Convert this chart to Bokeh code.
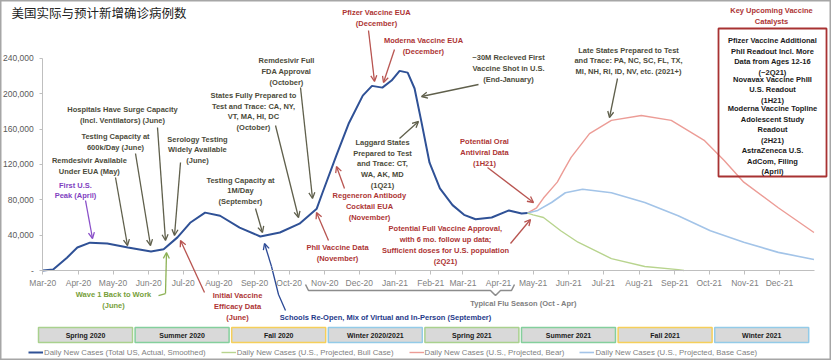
import datetime as dt
from bokeh.plotting import figure
from bokeh.models import (Range1d, LinearAxis, FixedTicker, NumeralTickFormatter,
                          Arrow, OpenHead, Legend, LegendItem)
from bokeh.core.properties import value
from bokeh.embed import file_html
from bokeh.resources import INLINE

# ---------------- data ----------------
actual_dates = ["2020-03-01", "2020-03-10", "2020-03-22", "2020-03-31", "2020-04-11",
                "2020-04-26", "2020-05-14", "2020-06-03", "2020-06-14", "2020-06-26",
                "2020-07-07", "2020-07-20", "2020-08-02", "2020-08-19", "2020-09-06",
                "2020-09-23", "2020-10-10", "2020-10-25", "2020-10-30", "2020-11-11",
                "2020-11-22", "2020-12-04", "2020-12-12", "2020-12-21", "2020-12-29",
                "2021-01-05", "2021-01-12", "2021-01-18", "2021-01-24", "2021-01-31",
                "2021-02-09", "2021-02-20", "2021-03-02", "2021-03-12", "2021-03-26",
                "2021-04-10", "2021-04-21", "2021-04-26"]
actual_cases = [0, 1000, 14500, 26000, 31500,
                30500, 26000, 21500, 24000, 37500,
                54000, 65500, 62000, 48500, 38500,
                43000, 53000, 70000, 88000, 130000,
                167000, 198000, 209000, 207000, 215000,
                226000, 224000, 206000, 168000, 122000,
                93000, 74000, 63000, 58000, 60000,
                68000, 64500, 65000]

bull_dates = ["2021-04-26", "2021-05-01", "2021-05-10", "2021-05-25", "2021-06-09",
              "2021-07-08", "2021-08-06", "2021-09-04", "2021-09-09"]
bull_cases = [65000, 63000, 60000, 45000, 32000, 13500, 4500, 1000, 0]

bear_dates = ["2021-04-26", "2021-05-04", "2021-05-10", "2021-05-22", "2021-05-27",
              "2021-06-03", "2021-06-19", "2021-07-08", "2021-08-03", "2021-08-29",
              "2021-09-27", "2021-10-14", "2021-10-31", "2021-11-30", "2021-12-31"]
bear_cases = [65000, 71000, 82000, 100000, 112000,
              128000, 155000, 170000, 175500, 170000,
              147000, 124500, 100000, 71000, 43000]

base_dates = ["2021-04-26", "2021-05-05", "2021-05-17", "2021-05-29", "2021-06-13",
              "2021-07-08", "2021-08-06", "2021-09-04", "2021-10-02", "2021-10-31",
              "2021-11-30", "2021-12-31"]
base_cases = [65000, 68000, 77000, 88000, 92000, 88000, 77000, 62000, 45000, 32000,
              20500, 12500]

month_labels = ["Mar-20", "Apr-20", "May-20", "Jun-20", "Jul-20", "Aug-20", "Sep-20",
                "Oct-20", "Nov-20", "Dec-20", "Jan-21", "Feb-21", "Mar-21", "Apr-21",
                "May-21", "Jun-21", "Jul-21", "Aug-21", "Sep-21", "Oct-21", "Nov-21",
                "Dec-21"]
y_ticks = [0, 40000, 80000, 120000, 160000, 200000, 240000]
season_labels = ["Spring 2020", "Summer 2020", "Fall 2020", "Winter 2020/2021",
                 "Spring 2021", "Summer 2021", "Fall 2021", "Winter 2021"]
legend_labels = ["Daily New Cases (Total US, Actual, Smoothed)",
                 "Daily New Cases (U.S., Projected, Bull Case)",
                 "Daily New Cases (U.S., Projected, Bear)",
                 "Daily New Cases (U.S., Projected, Base Case)"]
title_text = "美国实际与预计新增确诊病例数"

# ---------------- helpers ----------------
EPOCH = dt.datetime(1970, 1, 1)


def ms(d):
    return int((d - EPOCH).total_seconds() * 1000)


def ms_list(strings):
    return [ms(dt.datetime.strptime(s, "%Y-%m-%d")) for s in strings]


D0 = dt.datetime(2020, 3, 1)
PX0, PXD = 42.3, 1.151        # pixel of Mar-1-2020, pixels per day
Y0, YPX = 270.0, 1132.0       # pixel of zero, cases per pixel


def X(px):
    return ms(D0) + (px - PX0) / PXD * 86400000


def Y(py):
    return (Y0 - py) * YPX


FONT = value("Liberation Sans")
OLIVE_T = "#4b4b3a"
OLIVE_A = "#5f5f4b"
RED_T = "#ad3434"
RED_A = "#b85450"

p = figure(width=831, height=360, x_range=Range1d(X(0), X(831)),
           y_range=Range1d(Y(360), Y(0)), x_axis_type=None, y_axis_type=None,
           toolbar_location=None, output_backend="svg", min_border=0,
           outline_line_color="#a6a6a6", outline_line_width=2,
           background_fill_color="white", border_fill_color="white")

# axes
month_ticks = []
for i in range(len(month_labels)):
    yy = 2020 + (2 + i) // 12
    mm = (2 + i) % 12 + 1
    month_ticks.append(ms(dt.datetime(yy, mm, 1)))

xax = LinearAxis(fixed_location=0, bounds=(X(42.3), X(814)),
                 ticker=FixedTicker(ticks=month_ticks, minor_ticks=[]),
                 major_label_overrides=dict(zip(month_ticks, month_labels)))
xax.axis_line_color = "#bfbfbf"
xax.major_tick_line_color = "#bfbfbf"
xax.major_tick_in = 0
xax.major_tick_out = 4
xax.minor_tick_line_color = None
xax.major_label_standoff = 3
xax.major_label_text_font = "Liberation Sans"
xax.major_label_text_font_size = "8.5px"
xax.major_label_text_color = "#7f7f7f"
p.add_layout(xax, "below")

yax = LinearAxis(fixed_location=X(42.3), bounds=(0, 240000),
                 ticker=FixedTicker(ticks=y_ticks, minor_ticks=[]),
                 formatter=NumeralTickFormatter(format="0,0"),
                 major_label_overrides={0: "-"})
yax.axis_line_color = "#bfbfbf"
yax.major_tick_line_color = "#bfbfbf"
yax.major_tick_in = 0
yax.major_tick_out = 3
yax.minor_tick_line_color = None
yax.major_label_standoff = 6
yax.major_label_text_font = "Liberation Sans"
yax.major_label_text_font_size = "8.5px"
yax.major_label_text_color = "#595959"
p.add_layout(yax, "left")

# series
r_bear = p.line(ms_list(bear_dates), bear_cases, line_color="#ec9c96", line_width=1.4)
r_base = p.line(ms_list(base_dates), base_cases, line_color="#a3c4e8", line_width=1.6)
r_bull = p.line(ms_list(bull_dates), bull_cases, line_color="#b8d48e", line_width=1.4)
r_act = p.line(ms_list(actual_dates), actual_cases, line_color="#2f5196", line_width=2.0)


def note(px, py, text, color, size="7.5px", align="center", style="bold"):
    p.text(x=[X(px)], y=[Y(py)], text=[text], text_color=color, text_font=FONT,
           text_font_size=size, text_font_style=style, text_align=align,
           text_baseline="middle", text_line_height=1.2)


def arrow(x0, y0, x1, y1, color):
    p.add_layout(Arrow(end=OpenHead(size=6, line_color=color, line_width=1.3),
                       x_start=X(x0), y_start=Y(y0), x_end=X(x1), y_end=Y(y1),
                       line_color=color, line_width=1.3))


# title
p.text(x=[X(11)], y=[Y(12)], text=[title_text], text_color="#222222",
       text_font=value("Noto Sans CJK SC"), text_font_size="12.5px",
       text_align="left", text_baseline="middle")

# olive annotations
note(89, 165.5, "Remdesivir Available\nUnder EUA (May)", OLIVE_T)
arrow(115, 177, 127, 245, OLIVE_A)
note(115, 141.5, "Testing Capacity at\n600k/Day (June)", OLIVE_T)
arrow(135, 153, 150, 245, OLIVE_A)
note(122, 114.5, "Hospitals Have Surge Capacity\n(Incl. Ventilators) (June)", OLIVE_T)
arrow(157, 127, 165, 240, OLIVE_A)
note(197, 149.5, "Serology Testing\nWidely Available\n(June)", OLIVE_T)
arrow(180, 162, 174, 235, OLIVE_A)
note(240, 190.5, "Testing Capacity at\n1M/Day\n(September)", OLIVE_T)
arrow(255, 208, 262, 232, OLIVE_A)
note(286, 71, "Remdesivir Full\nFDA Approval\n(October)", OLIVE_T)
arrow(300, 87, 312, 198, OLIVE_A)
note(253, 111, "States Fully Prepared to\nTest and Trace: CA, NY,\nVT, MA, HI, DC\n(October)", OLIVE_T)
arrow(275, 125, 298, 217, OLIVE_A)
note(508, 68, "~30M Recieved First\nVaccine Shot in U.S.\n(End-January)", OLIVE_T)
arrow(478, 84, 421, 96, OLIVE_A)
note(382, 163.5, "Laggard States\nPrepared to Test\nand Trace: CT,\nWA, AK, MD\n(1Q21)", OLIVE_T)
arrow(399, 138, 418, 121, OLIVE_A)
note(628, 60.5, "Late States Prepared to Test\nand Trace: PA, NC, SC, FL, TX,\nMI, NH, RI, ID, NV, etc. (2021+)", OLIVE_T)
arrow(617, 78, 609, 117, OLIVE_A)

# red annotations
note(376, 17.5, "Pfizer Vaccine EUA\n(December)", RED_T)
arrow(368, 30, 374, 81, RED_A)
note(423, 45.5, "Moderna Vaccine EUA\n(December)", RED_T)
arrow(394, 49, 383, 82, RED_A)
note(369, 206, "Regeneron Antibody\nCocktail EUA\n(November)", RED_T)
arrow(344, 188, 336, 166, RED_A)
note(337, 252.5, "PhII Vaccine Data\n(November)", RED_T)
arrow(328, 240, 316, 212, RED_A)
note(484, 152, "Potential Oral\nAntiviral Data\n(1H21)", RED_T)
arrow(487, 167, 533, 202, RED_A)
note(445, 244.5, "Potential Full Vaccine Approval,\nwith 6 mo. follow up data;\nSufficient doses for U.S. population\n(2Q21)", RED_T)
arrow(510, 243, 530, 219, RED_A)
note(237, 306, "Initial Vaccine\nEfficacy Data\n(June)", RED_T)
arrow(204, 292, 180, 240, RED_A)

# purple / green / navy
note(75, 190, "First U.S.\nPeak (April)", "#7f3fbf")
arrow(85, 200, 92, 238, "#8a4fc8")
note(113, 299.5, "Wave 1 Back to Work\n(June)", "#77a03a")
p.line([X(158), X(165)], [Y(295), Y(293)], line_color="#8db255", line_width=1.3)
arrow(165, 293, 166, 252, "#8db255")
note(385, 317, "Schools Re-Open, Mix of Virtual and In-Person (September)", "#1f3a8a")
p.line([X(285), X(278), X(271)], [Y(310), Y(294), Y(266)], line_color="#2c4a96", line_width=1.3)
arrow(271, 266, 264, 243, "#2c4a96")

# key catalysts box
note(771, 15.5, "Key Upcoming Vaccine\nCatalysts", RED_T)
p.quad(left=[X(718)], right=[X(826)], top=[Y(28)], bottom=[Y(176)],
       fill_alpha=0, line_color="#a83232", line_width=1.8)
note(772, 56, "Pfizer Vaccine Additional\nPhII Readout Incl. More\nData from Ages 12-16\n(~2Q21)", "#1a1a1a")
note(772, 89.3, "Novavax Vaccine PhIII\nU.S. Readout\n(1H21)", "#1a1a1a")
note(772, 124, "Moderna Vaccine Topline\nAdolescent Study\nReadout\n(2H21)", "#1a1a1a")
note(772, 160.7, "AstraZeneca U.S.\nAdCom, Filing\n(April)", "#1a1a1a")

# flu season bracket
p.line([X(305), X(308), X(490), X(495), X(500), X(511), X(514)],
       [Y(284), Y(290), Y(290), Y(295), Y(290), Y(290), Y(284)],
       line_color="#8c8c8c", line_width=1.5)
note(523, 303, "Typical Flu Season (Oct - Apr)", "#7f7f7f")

# season bars
season_border = ["#a9d18e", "#84cf9c", "#f5cf5a", "#93cbe8",
                 "#a9d18e", "#84cf9c", "#f5cf5a", "#93cbe8"]
lefts = [X(38 + i * 96.6) for i in range(len(season_labels))]
rights = [X(38 + i * 96.6 + 94) for i in range(len(season_labels))]
p.quad(left=lefts, right=rights, top=Y(327), bottom=Y(342), fill_color="#d9d9d9",
       line_color=season_border, line_width=1.5)
p.text(x=[(a + b) / 2 for a, b in zip(lefts, rights)], y=[Y(334.5)] * len(season_labels),
       text=season_labels, text_color="#1a1a1a", text_font=FONT, text_font_size="7px",
       text_font_style="bold", text_align="center", text_baseline="middle")

# legend
legend = Legend(items=[LegendItem(label=legend_labels[0], renderers=[r_act]),
                       LegendItem(label=legend_labels[1], renderers=[r_bull]),
                       LegendItem(label=legend_labels[2], renderers=[r_bear]),
                       LegendItem(label=legend_labels[3], renderers=[r_base])],
                orientation="horizontal", location=(28, 3), padding=0, margin=0,
                spacing=15, glyph_width=15, glyph_height=10, label_height=10,
                label_standoff=1, label_text_font="Liberation Sans",
                label_text_font_size="7.8px", label_text_color="#7f7f7f",
                background_fill_alpha=0, border_line_alpha=0)
p.add_layout(legend)

open("out.html", "w").write(file_html(p, INLINE))
